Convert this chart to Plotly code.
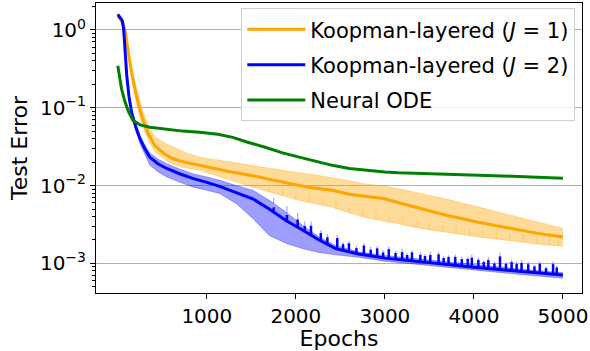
import numpy as np
import plotly.graph_objects as go

# ---------------- data ----------------
orange_epochs = [0, 40, 80, 120, 154, 210, 266, 340, 415, 520, 620, 750, 918, 1100, 1291,
                 1500, 1664, 1850, 2037, 2200, 2409, 2600, 2783, 3000, 3155, 3400, 3678,
                 4050, 4423, 4700, 5000]
orange_mean = [1.51, 1.32, 1.0, 0.501, 0.282, 0.141, 0.0794, 0.0468, 0.0327, 0.0257, 0.0221,
               0.0200, 0.0182, 0.0166, 0.0148, 0.0135, 0.0123, 0.0111, 0.0100, 0.00933,
               0.00871, 0.00776, 0.00724, 0.00676, 0.00603, 0.00505, 0.00420, 0.00339,
               0.00282, 0.00245, 0.00219]
orange_upper = [1.58, 1.38, 1.07, 0.575, 0.339, 0.178, 0.102, 0.0603, 0.0427, 0.0355, 0.0316,
                0.0269, 0.0232, 0.0214, 0.0200, 0.0182, 0.0170, 0.0158, 0.0148, 0.0138,
                0.0126, 0.0115, 0.0105, 0.00977, 0.00912, 0.00794, 0.00676, 0.00531,
                0.00417, 0.00347, 0.00282]
orange_lower = [1.45, 1.26, 0.933, 0.437, 0.240, 0.117, 0.0646, 0.0389, 0.0275, 0.0219, 0.0186,
                0.0170, 0.0157, 0.0135, 0.0115, 0.00955, 0.00851, 0.00741, 0.00646, 0.00589,
                0.00525, 0.00447, 0.00389, 0.00347, 0.00324, 0.00282, 0.00251, 0.00219,
                0.00195, 0.00178, 0.00166]

blue_epochs = [0, 25, 50, 65, 80, 100, 125, 155, 200, 250, 300, 360, 450, 550, 700, 850, 1000,
               1143, 1329, 1515, 1701, 1888, 2074, 2261, 2447, 2700, 3000, 3500, 4000, 4500, 5000]
blue_mean = [1.58, 1.45, 1.32, 1.05, 0.501, 0.263, 0.141, 0.0871, 0.0575, 0.0398, 0.0302,
             0.0232, 0.0191, 0.0166, 0.0141, 0.0123, 0.0110, 0.00977, 0.00813, 0.00676,
             0.00501, 0.00355, 0.00269, 0.00200, 0.00155, 0.00132, 0.00117, 0.00102,
             0.000891, 0.000794, 0.000708]
blue_upper = [1.62, 1.48, 1.35, 1.10, 0.537, 0.282, 0.151, 0.0933, 0.0631, 0.0437, 0.0339,
              0.0263, 0.0219, 0.0191, 0.0162, 0.0141, 0.0129, 0.0117, 0.0100, 0.00871,
              0.00646, 0.00457, 0.00309, 0.00219, 0.00170, 0.00141, 0.00126, 0.00110,
              0.000955, 0.000851, 0.000759]
blue_lower = [1.55, 1.41, 1.26, 1.0, 0.468, 0.245, 0.129, 0.0794, 0.0513, 0.0347, 0.0257,
              0.0182, 0.0151, 0.0129, 0.0110, 0.00955, 0.00871, 0.00794, 0.00589, 0.00380,
              0.00229, 0.00182, 0.00155, 0.00138, 0.00129, 0.00120, 0.00107, 0.000933,
              0.000813, 0.000724, 0.000646]

green_epochs = [0, 20, 42, 80, 120, 172, 250, 359, 550, 731, 918, 1123, 1291, 1450, 1664, 1850,
                2037, 2200, 2409, 2600, 2783, 3000, 3155, 3400, 3678, 4050, 4423, 4700, 5000]
green_mean = [0.347, 0.251, 0.174, 0.120, 0.0891, 0.0684, 0.0603, 0.0562, 0.0525, 0.0501,
              0.0484, 0.0457, 0.0417, 0.0363, 0.0309, 0.0263, 0.0232, 0.0209, 0.0182, 0.0166,
              0.0157, 0.0150, 0.0146, 0.0144, 0.0141, 0.0136, 0.0132, 0.0128, 0.0124]

# spikes of the J=2 run: epoch, rise of mean line and of band edge (in decades)
blue_spike_epochs = [1750, 1900, 2020, 2100, 2170, 2280, 2354, 2465, 2530, 2596, 2680, 2764,
                     2840, 2913, 2980, 3044, 3120, 3193, 3250, 3304, 3398, 3450, 3510, 3603,
                     3660, 3715, 3790, 3864, 3930, 3976, 4050, 4110, 4162, 4230, 4293, 4360,
                     4423, 4480, 4535, 4610, 4680, 4740, 4810, 4889, 4930]
blue_spike_rise = [0.06, 0.08, 0.10, 0.07, 0.12, 0.10, 0.09, 0.14, 0.08, 0.11, 0.07, 0.12,
                   0.08, 0.11, 0.07, 0.12, 0.08, 0.10, 0.07, 0.11, 0.09, 0.08, 0.10, 0.12,
                   0.08, 0.10, 0.11, 0.09, 0.10, 0.12, 0.10, 0.08, 0.11, 0.07, 0.17, 0.08,
                   0.11, 0.09, 0.11, 0.10, 0.08, 0.12, 0.07, 0.13, 0.09]
blue_band_spike_rise = [0.07, 0.09, 0.11, 0.07, 0.13, 0.10, 0.09, 0.14, 0.07, 0.11, 0.07, 0.12,
                        0.09, 0.11, 0.07, 0.12, 0.07, 0.11, 0.06, 0.10, 0.09, 0.07, 0.11, 0.12,
                        0.07, 0.09, 0.11, 0.09, 0.09, 0.13, 0.10, 0.07, 0.12, 0.07, 0.19, 0.07,
                        0.11, 0.09, 0.12, 0.10, 0.07, 0.12, 0.06, 0.13, 0.09]

# small spikes on the lower edge of the J=1 band
orange_spike_epochs = [1700, 1850, 2000, 2150, 2300, 2450, 2600, 2750, 2900, 3050, 3200, 3350,
                       3500, 3650, 3800, 3950, 4100, 4250, 4400, 4550, 4700, 4850, 4950]
orange_spike_rise = [0.06, 0.08, 0.07, 0.09, 0.08, 0.10, 0.08, 0.09, 0.10, 0.08, 0.10, 0.09,
                     0.10, 0.08, 0.10, 0.09, 0.10, 0.12, 0.09, 0.11, 0.10, 0.12, 0.10]

x_ticks = [1000, 2000, 3000, 4000, 5000]
y_ticks = [1e-3, 1e-2, 1e-1, 1]
y_ticktext = ["10<sup>−3</sup>", "10<sup>−2</sup>", "10<sup>−1</sup>", "10<sup>0</sup>"]

labels = ["Koopman-layered (<i>J</i> = 1)", "Koopman-layered (<i>J</i> = 2)", "Neural ODE"]

ORANGE = "#FFA500"
BLUE = "#0000FF"
GREEN = "#008000"
FONT = "DejaVu Sans"


def spikes(ep, cx, cy, rises):
    lx = np.log10(np.asarray(cy, dtype=float))
    xs, ys = [], []
    for e, r in zip(ep, rises):
        f = float(np.interp(e, cx, lx))
        xs += [e, e, None]
        ys += [10 ** f, 10 ** (f + r), None]
    return xs, ys


fig = go.Figure()


def band(x, up, lo, rgba, group):
    fig.add_trace(go.Scatter(x=x, y=up, mode="lines", line=dict(color=rgba, width=0.8),
                             showlegend=False, hoverinfo="skip", legendgroup=group))
    fig.add_trace(go.Scatter(x=x, y=lo, mode="lines", line=dict(color=rgba, width=0.8),
                             fill="tonexty", fillcolor=rgba, showlegend=False,
                             hoverinfo="skip", legendgroup=group))


# J = 1
band(orange_epochs, orange_upper, orange_lower, "rgba(255,165,0,0.4)", "g1")
sx, sy = spikes(orange_spike_epochs, orange_epochs, orange_lower, orange_spike_rise)
fig.add_trace(go.Scatter(x=sx, y=sy, mode="lines", line=dict(color="rgba(255,165,0,0.35)", width=1),
                         showlegend=False, hoverinfo="skip", legendgroup="g1"))
fig.add_trace(go.Scatter(x=orange_epochs, y=orange_mean, mode="lines", name=labels[0],
                         line=dict(color=ORANGE, width=3), legendgroup="g1"))

# J = 2
band(blue_epochs, blue_upper, blue_lower, "rgba(0,0,255,0.38)", "g2")
sx, sy = spikes(blue_spike_epochs, blue_epochs, blue_upper, blue_band_spike_rise)
fig.add_trace(go.Scatter(x=sx, y=sy, mode="lines", line=dict(color="rgba(0,0,255,0.35)", width=1.2),
                         showlegend=False, hoverinfo="skip", legendgroup="g2"))
fig.add_trace(go.Scatter(x=blue_epochs, y=blue_mean, mode="lines", name=labels[1],
                         line=dict(color=BLUE, width=3), legendgroup="g2"))
sx, sy = spikes(blue_spike_epochs, blue_epochs, blue_mean, blue_spike_rise)
fig.add_trace(go.Scatter(x=sx, y=sy, mode="lines", line=dict(color=BLUE, width=2.5),
                         showlegend=False, hoverinfo="skip", legendgroup="g2"))

# Neural ODE
fig.add_trace(go.Scatter(x=green_epochs, y=green_mean, mode="lines", name=labels[2],
                         line=dict(color=GREEN, width=3), legendgroup="g3"))

minor_vals = [m * 10.0 ** d for d in range(-4, 1) for m in range(2, 10)]

fig.update_layout(
    width=590, height=351,
    margin=dict(l=96, r=6, t=2, b=58),
    paper_bgcolor="white", plot_bgcolor="white",
    font=dict(family=FONT, size=20, color="black"),
    showlegend=True,
    legend=dict(x=0.299, y=0.982, xanchor="left", yanchor="top",
                bgcolor="rgba(255,255,255,0.85)", bordercolor="#d0d0d0", borderwidth=1,
                font=dict(family=FONT, size=21, color="black"),
                tracegroupgap=5, traceorder="grouped", itemwidth=58),
    xaxis=dict(range=[-245, 5214], tickvals=x_ticks, ticks="outside", ticklen=5,
               tickcolor="black", showline=True, linecolor="black", linewidth=1,
               mirror=True, showgrid=False, zeroline=False, ticklabeloverflow="allow",
               tickfont=dict(family=FONT, size=20),
               title=dict(text="Epochs", font=dict(family=FONT, size=22), standoff=2)),
    yaxis=dict(type="log", range=[-3.38, 0.346], tickvals=y_ticks, ticktext=y_ticktext,
               ticks="outside", ticklen=5, tickcolor="black", showline=True,
               linecolor="black", linewidth=1, mirror=True, showgrid=True,
               gridcolor="#b0b0b0", gridwidth=1, zeroline=False,
               tickfont=dict(family=FONT, size=20),
               minor=dict(tickvals=minor_vals, ticks="outside", ticklen=3,
                          tickcolor="black", showgrid=False),
               title=dict(text="Test Error", font=dict(family=FONT, size=22), standoff=6)),
)

fig.write_html("out.html")
